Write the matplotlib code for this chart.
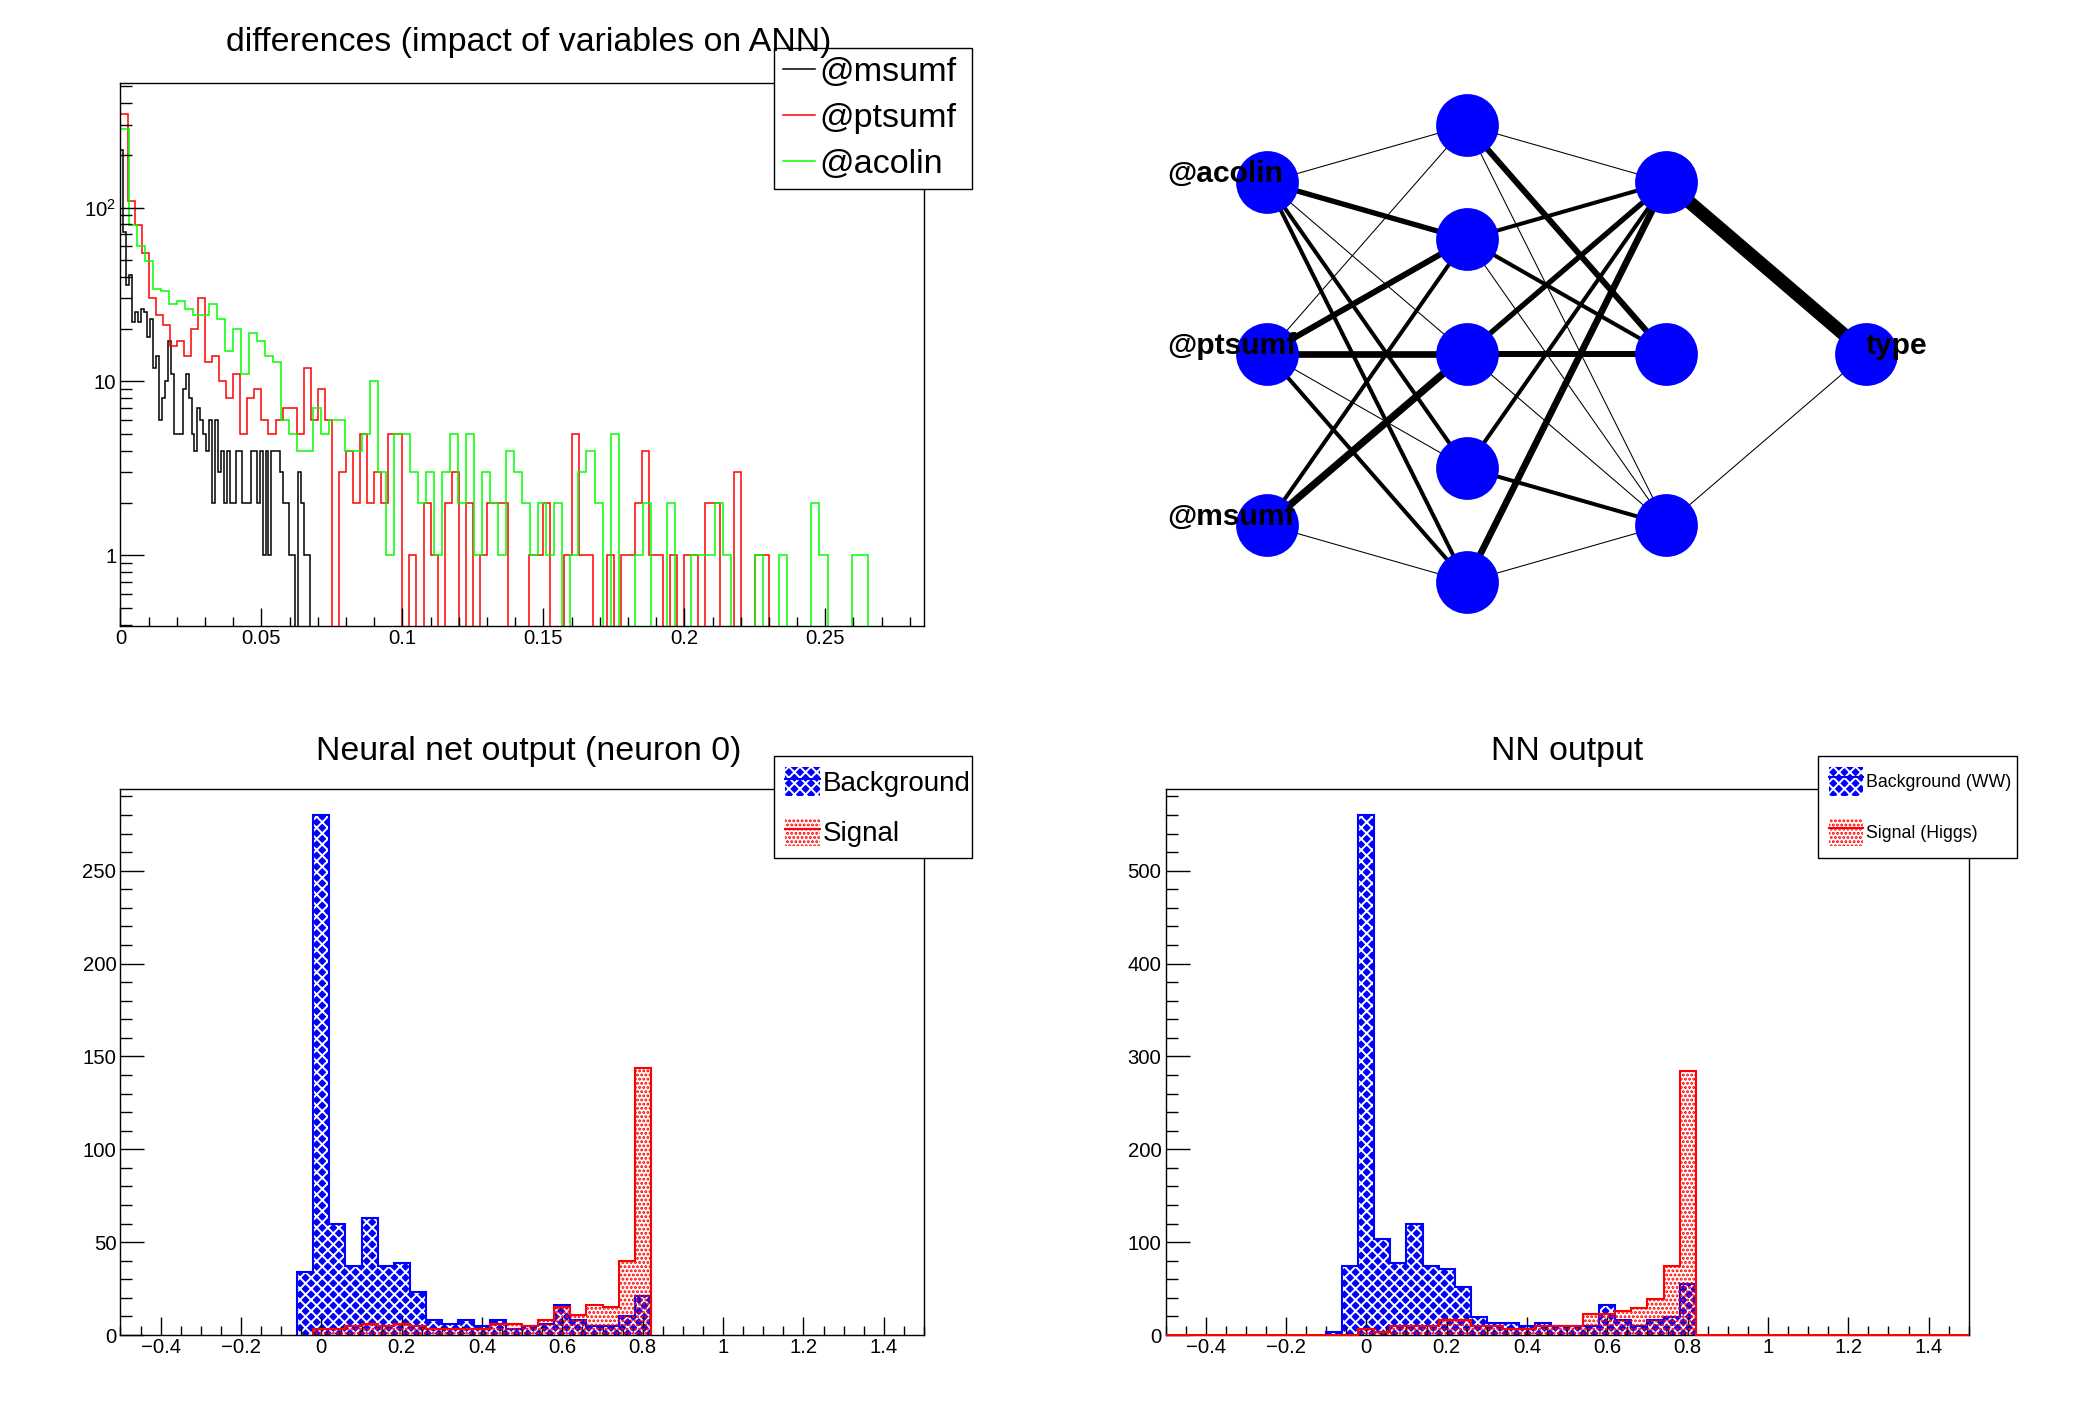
import numpy as np
import matplotlib
matplotlib.use("Agg")
import matplotlib.pyplot as plt
from matplotlib.ticker import MultipleLocator, FixedLocator, FuncFormatter, NullFormatter
from matplotlib.lines import Line2D
from matplotlib.patches import Patch
from matplotlib.legend_handler import HandlerTuple

plt.rcParams['font.family'] = ['Liberation Sans', 'DejaVu Sans']
plt.rcParams['mathtext.fontset'] = 'custom'
plt.rcParams['mathtext.rm'] = 'Liberation Sans'
plt.rcParams['mathtext.it'] = 'Liberation Sans:italic'
plt.rcParams['mathtext.bf'] = 'Liberation Sans:bold'
plt.rcParams['hatch.linewidth'] = 0.7
plt.rcParams['axes.linewidth'] = 0.5

# ---------------- data ----------------
# top-left: differences (impact of variables on ANN)
diff_title = "differences (impact of variables on ANN)"
diff_names = ['@msumf', '@ptsumf', '@acolin']
diff_colors = ['#000000', '#ff0000', '#00ff00']
diff_bin_width = [0.00105, 0.0025, 0.00285]
diff_msumf = [213, 72, 36, 41, 22, 25, 22, 26, 25, 18,
              23, 12, 14, 6, 8, 10, 17, 11, 5, 5,
              5, 9, 11, 8, 5, 4, 7, 6, 5, 4,
              6, 2, 6, 3, 4, 2, 4, 2, 2, 4,
              4, 2, 2, 2, 4, 4, 2, 4, 1, 4,
              1, 4, 4, 4, 3, 2, 2, 1, 1, 0,
              3, 2, 1, 1]
diff_ptsumf = [343, 109, 79, 55, 30, 24, 21, 16, 17, 14,
               20, 30, 13, 14, 10, 8, 11, 5, 8, 9,
               6, 5, 6, 7, 7, 5, 12, 6, 9, 6,
               0, 3, 4, 2, 5, 2, 3, 2, 5, 5,
               0, 1, 0, 2, 1, 0, 2, 3, 0, 2,
               0, 1, 2, 2, 2, 0, 0, 0, 1, 1,
               2, 0, 0, 1, 5, 1, 1, 0, 0, 1,
               0, 1, 1, 2, 4, 1, 1, 0, 1, 0,
               1, 1, 0, 2, 2, 0, 0, 3, 0, 0,
               1, 1]
diff_acolin = [283, 79, 60, 49, 34, 33, 28, 29, 26, 24,
               24, 28, 23, 15, 20, 11, 19, 17, 14, 13,
               6, 5, 4, 4, 7, 5, 6, 6, 4, 4,
               5, 10, 3, 1, 5, 5, 3, 2, 3, 1,
               3, 5, 2, 5, 1, 3, 2, 1, 4, 3,
               2, 1, 2, 1, 2, 0, 1, 3, 4, 2,
               0, 5, 0, 0, 1, 2, 0, 0, 2, 0,
               0, 1, 1, 1, 2, 1, 0, 0, 0, 1,
               0, 0, 1, 0, 0, 0, 2, 1, 0, 0,
               0, 1, 1]
diff_xlim = (0.0, 0.285)
diff_ylim = (0.393, 520)
diff_xticks = [0, 0.05, 0.1, 0.15, 0.2, 0.25]

# top-right: network structure (line width units per synapse)
nn_layers = [3, 5, 3, 1]
nn_input_names = ['@msumf', '@ptsumf', '@acolin']
nn_output_names = ['type']
syn_in_h1 = [[1, 0, 5.5, 3, 0],
             [3, 1, 5, 4.5, 1],
             [3, 3, 1, 4, 1]]
syn_h1_h2 = [[1, 0, 5],
             [3, 0, 3],
             [1, 4.5, 4],
             [1, 3, 3],
             [1, 4.5, 1]]
syn_h2_out = [[1], [0], [10]]

# bottom: NN output histograms (50 bins from -0.5 to 1.5)
out_range = (-0.5, 1.5)
out_nbins = 50
n0_title = "Neural net output (neuron 0)"
n0_labels = ['Background', 'Signal']
n0_bkg = [0, 0, 0, 0, 0, 0, 0, 0, 0, 0,
          0, 34, 280, 60, 37, 63, 37, 39, 23, 8,
          6, 8, 5, 8, 3, 5, 6, 16, 8, 5,
          5, 10, 21, 0, 0, 0, 0, 0, 0, 0,
          0, 0, 0, 0, 0, 0, 0, 0, 0, 0]
n0_sig = [0, 0, 0, 0, 0, 0, 0, 0, 0, 0,
          0, 0, 3, 3, 5, 6, 5, 6, 5, 3,
          3, 3, 3, 6, 6, 5, 8, 15, 11, 16,
          15, 40, 144, 0, 0, 0, 0, 0, 0, 0,
          0, 0, 0, 0, 0, 0, 0, 0, 0, 0]
nn_title = "NN output"
nn_labels = ['Background (WW)', 'Signal (Higgs)']
nn_bkg = [0, 0, 0, 0, 0, 0, 0, 0, 0, 0,
          3, 74, 560, 103, 78, 120, 74, 71, 52, 19,
          13, 13, 10, 13, 10, 10, 10, 32, 16, 10,
          16, 19, 55, 0, 0, 0, 0, 0, 0, 0,
          0, 0, 0, 0, 0, 0, 0, 0, 0, 0]
nn_sig = [0, 0, 0, 0, 0, 0, 0, 0, 0, 0,
          0, 0, 6, 3, 10, 10, 10, 16, 16, 10,
          10, 6, 6, 10, 10, 10, 23, 23, 26, 29,
          39, 74, 284, 0, 0, 0, 0, 0, 0, 0,
          0, 0, 0, 0, 0, 0, 0, 0, 0, 0]

# ---------------- styling helpers ----------------
TICK_FS = 7.3
BKG_HATCH = 'xxxxxx'
SIG_HATCH = '........'


def fmt_num(x, pos=None):
    v = round(x, 6)
    if v == 0:
        return '0'
    return f'{v:g}'.replace('-', '\u2212')


def style_axes(ax):
    ax.tick_params(which='both', direction='in', top=False, right=False,
                   labelsize=TICK_FS, width=0.5, color='black')
    ax.tick_params(axis='y', which='major', length=8.6, pad=1.5)
    ax.tick_params(axis='y', which='minor', length=4.3)
    ax.tick_params(axis='x', which='major', length=6.5, pad=1.2)
    ax.tick_params(axis='x', which='minor', length=3.3)
    for s in ax.spines.values():
        s.set_linewidth(0.5)


fig = plt.figure(figsize=(10.44, 7.08), dpi=200)
fig.patch.set_facecolor('white')

# ---------------- top-left ----------------
ax1 = fig.add_axes([0.0577, 0.5579, 0.3848, 0.3835])
ax1.set_yscale('log')
floor = 1e-2
for vals, bw, col in zip([diff_msumf, diff_ptsumf, diff_acolin], diff_bin_width, diff_colors):
    v = np.asarray(vals, dtype=float)
    edges = np.arange(len(v) + 1) * bw
    ax1.stairs(np.where(v > 0, v, floor), edges, color=col, linewidth=0.55, baseline=floor)
ax1.set_xlim(*diff_xlim)
ax1.set_ylim(*diff_ylim)
ax1.xaxis.set_major_locator(FixedLocator(diff_xticks))
ax1.xaxis.set_minor_locator(MultipleLocator(0.01))
ax1.xaxis.set_major_formatter(FuncFormatter(fmt_num))
ax1.yaxis.set_major_locator(FixedLocator([1, 10, 100]))
ax1.yaxis.set_major_formatter(FuncFormatter(
    lambda y, p: {1: '1', 10: '10', 100: r'$\mathregular{10^{2}}$'}.get(int(round(y)), '')))
minor_y = [m * d for d in (0.1, 1, 10, 100) for m in range(2, 10)]
ax1.yaxis.set_minor_locator(FixedLocator(minor_y))
ax1.yaxis.set_minor_formatter(NullFormatter())
style_axes(ax1)
h_diff = [Line2D([], [], color=c, lw=0.55) for c in diff_colors]
leg1 = ax1.legend(h_diff, diff_names, loc='upper left',
                  bbox_to_anchor=(0.3707, 0.8715, 0.0948, 0.0946),
                  bbox_transform=fig.transFigure, mode='expand',
                  fontsize=12.3, handlelength=0.95, handletextpad=0.12,
                  labelspacing=0.45, borderpad=0.25, borderaxespad=0,
                  fancybox=False, framealpha=1, edgecolor='black')
leg1.get_frame().set_linewidth(0.5)
fig.text(0.2534, 0.964, diff_title, ha='center', va='baseline', fontsize=12.2)

# ---------------- top-right: network ----------------
axn = fig.add_axes([0.511, 0.5085, 0.4784, 0.4837])
axn.set_xlim(0, 1)
axn.set_ylim(0, 1)
axn.axis('off')
n_l = len(nn_layers)
pos = []
for li, n in enumerate(nn_layers):
    xs = [(li + 1) / (n_l + 1)] * n
    ys = [(k + 1) / (n + 1) for k in range(n)]
    pos.append((xs, ys))
W_SCALE = 0.48
for li, syn in enumerate([syn_in_h1, syn_h1_h2, syn_h2_out]):
    xa, ya = pos[li]
    xb, yb = pos[li + 1]
    for i, row in enumerate(syn):
        for j, w in enumerate(row):
            if w > 0:
                axn.plot([xa[i], xb[j]], [ya[i], yb[j]], color='black',
                         lw=w * W_SCALE if w > 1 else 0.38,
                         solid_capstyle='butt', zorder=1)
for xs, ys in pos:
    axn.plot(xs, ys, 'o', ms=21.6, color='#0000ff', mec='#0000ff', zorder=2)
xs0, ys0 = pos[0]
for k, name in enumerate(nn_input_names):
    axn.text(xs0[k] / 2, ys0[k], name, ha='left', va='baseline',
             fontsize=10.8, fontweight='bold', zorder=3)
xo, yo = pos[-1]
for k, name in enumerate(nn_output_names):
    axn.text(xo[k], yo[k], name, ha='left', va='baseline',
             fontsize=10.8, fontweight='bold', zorder=3)


# ---------------- bottom panels ----------------
def draw_output(rect, bkg, sig, title, labels, ymajor, yminor, leg_rect, leg_fs,
                leg_kw, full_sig_line, title_x):
    ax = fig.add_axes(rect)
    edges = np.linspace(out_range[0], out_range[1], out_nbins + 1)
    b = np.asarray(bkg, dtype=float)
    s = np.asarray(sig, dtype=float)
    nzb = np.nonzero(b)[0]
    lb, hb = nzb[0], nzb[-1] + 1
    nzs = np.nonzero(s)[0]
    ls, hs = nzs[0], nzs[-1] + 1
    ax.stairs(b[lb:hb], edges[lb:hb + 1], fill=True, facecolor='#0000ff',
              edgecolor='white', hatch=BKG_HATCH, linewidth=0, zorder=1)
    ax.stairs(b[lb:hb], edges[lb:hb + 1], color='#0000ff', linewidth=0.75,
              zorder=2, clip_on=False)
    ax.stairs(s[ls:hs], edges[ls:hs + 1], fill=True, facecolor='none',
              edgecolor='#ff0000', hatch=SIG_HATCH, linewidth=0, zorder=3)
    if full_sig_line:
        ax.stairs(s, edges, color='#ff0000', linewidth=0.75, zorder=4, clip_on=False)
    else:
        ax.stairs(s[ls:hs], edges[ls:hs + 1], color='#ff0000', linewidth=0.75,
                  zorder=4, clip_on=False)
    ax.set_xlim(*out_range)
    ax.set_ylim(0, 1.05 * max(b.max(), s.max()))
    ax.xaxis.set_major_locator(MultipleLocator(0.2))
    ax.xaxis.set_minor_locator(MultipleLocator(0.05))
    ax.xaxis.set_major_formatter(FuncFormatter(fmt_num))
    ax.yaxis.set_major_locator(MultipleLocator(ymajor))
    ax.yaxis.set_minor_locator(MultipleLocator(yminor))
    ax.yaxis.set_major_formatter(FuncFormatter(fmt_num))
    style_axes(ax)
    h_b = (Patch(facecolor='#0000ff', edgecolor='white', hatch=BKG_HATCH, linewidth=0),
           Line2D([], [], color='#0000ff', lw=0.75))
    h_s = (Patch(facecolor='none', edgecolor='#ff0000', hatch=SIG_HATCH, linewidth=0),
           Line2D([], [], color='#ff0000', lw=0.75))
    leg = ax.legend([h_b, h_s], labels, handler_map={tuple: HandlerTuple(ndivide=1, pad=0)},
                    loc='upper left', bbox_to_anchor=leg_rect,
                    bbox_transform=fig.transFigure, mode='expand', fontsize=leg_fs,
                    borderaxespad=0, fancybox=False, framealpha=1,
                    edgecolor='black', **leg_kw)
    leg.get_frame().set_linewidth(0.5)
    fig.text(title_x, 0.4633, title, ha='center', va='baseline', fontsize=12.2)
    return ax


draw_output([0.0577, 0.0572, 0.3848, 0.3856], n0_bkg, n0_sig, n0_title, n0_labels,
            50, 10, (0.3707, 0.3941, 0.0948, 0.072), 10,
            dict(handlelength=1.25, handleheight=1.2, handletextpad=0.1,
                 labelspacing=0.75, borderpad=0.4),
            False, 0.2534)
draw_output([0.5582, 0.0572, 0.3847, 0.3856], nn_bkg, nn_sig, nn_title, nn_labels,
            100, 20, (0.8707, 0.3941, 0.0953, 0.072), 6.4,
            dict(handlelength=1.9, handleheight=2.1, handletextpad=0.2,
                 labelspacing=1.25, borderpad=0.62),
            True, 0.7507)

fig.savefig('out.png', dpi=200, facecolor='white')
